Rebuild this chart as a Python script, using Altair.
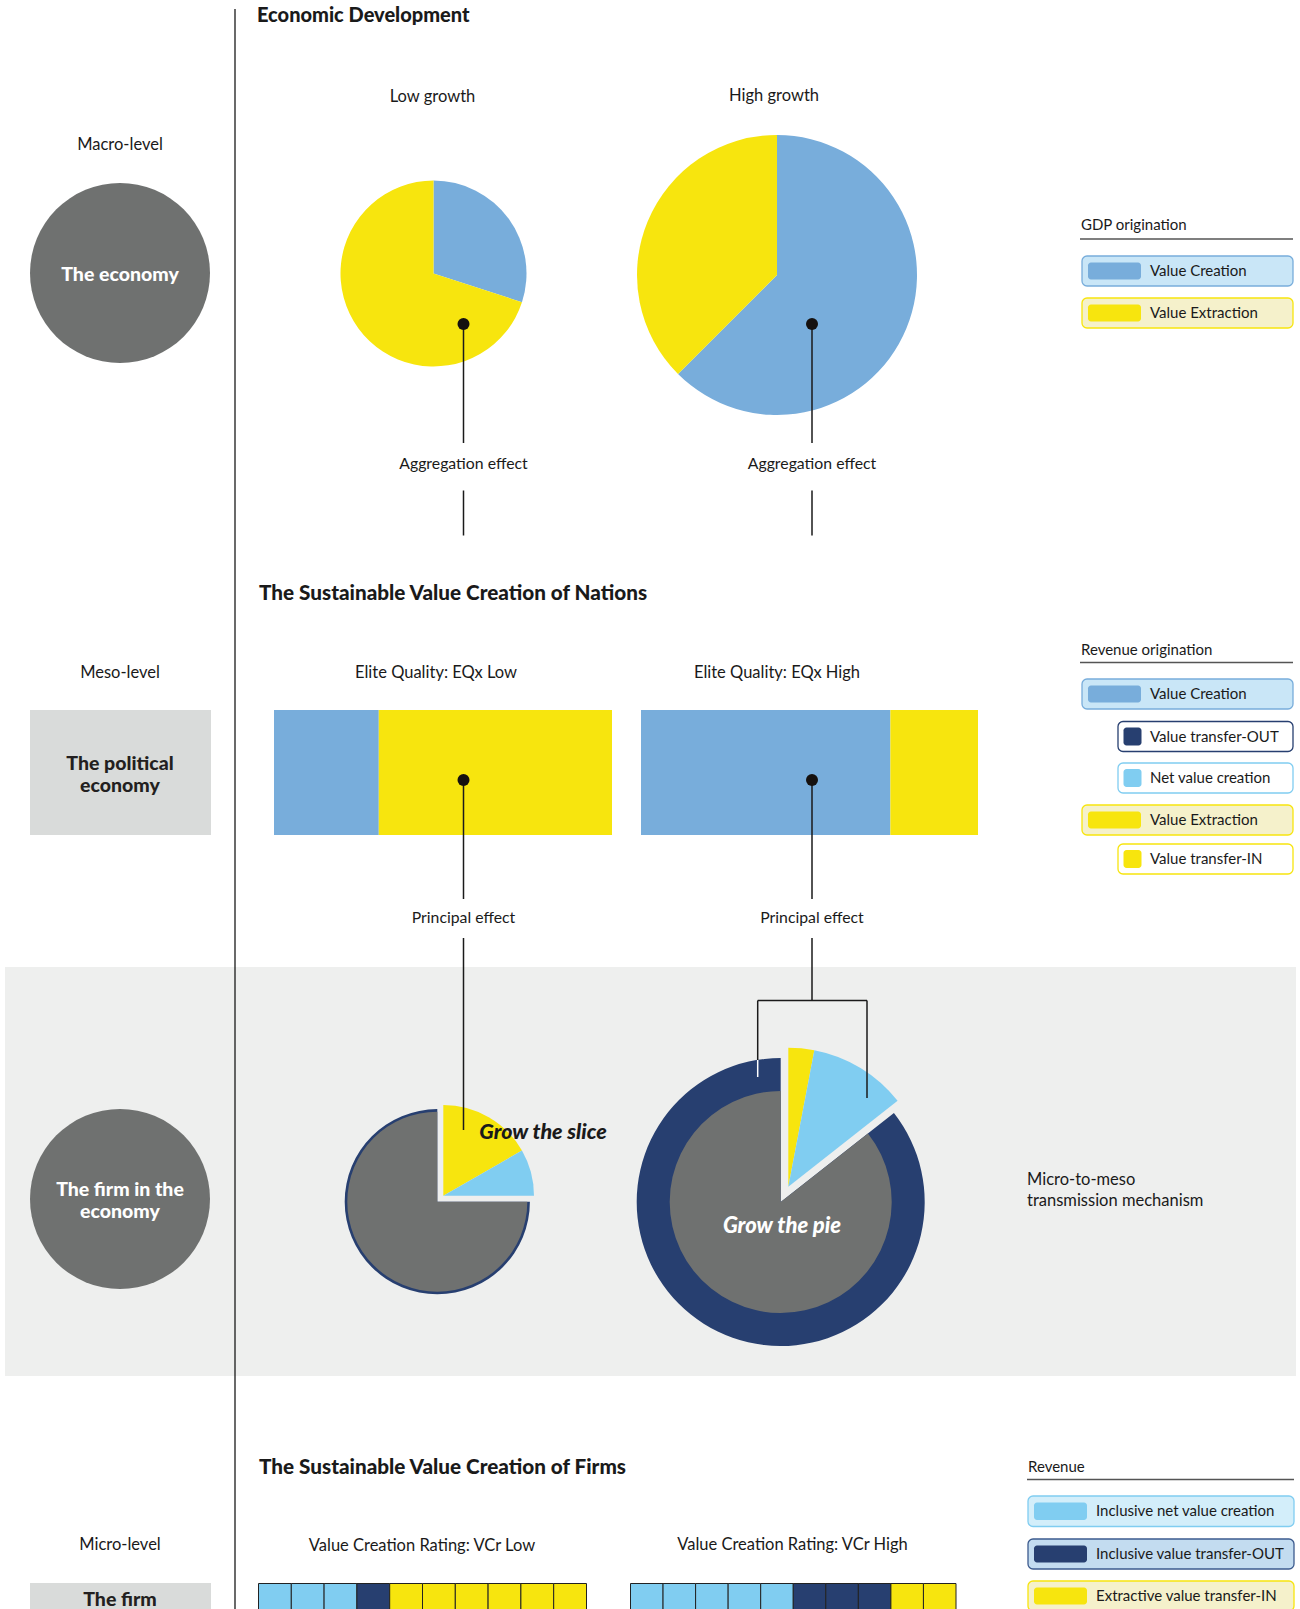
import math
import altair as alt
import pandas as pd

# ---------------- data ----------------
gdp_parts = ["Value Creation", "Value Extraction"]
gdp_low_growth = [0.30, 0.70]
gdp_high_growth = [0.625, 0.375]

rev_parts = ["Value Creation", "Value Extraction"]
eqx_low = [0.31, 0.69]
eqx_high = [0.74, 0.26]

firm_parts = ["Value transfer-IN", "Net value creation", "Firm revenue"]
firm_low = [0.167, 0.083, 0.75]
firm_high = [0.03, 0.114, 0.856]

NVC, OUT, XIN = ("Inclusive net value creation", "Inclusive value transfer-OUT",
                 "Extractive value transfer-IN")
vcr_low_cells = [NVC] * 3 + [OUT] * 1 + [XIN] * 6
vcr_high_cells = [NVC] * 5 + [OUT] * 3 + [XIN] * 2

legend_gdp = ["Value Creation", "Value Extraction"]
legend_rev = ["Value Creation", "Value transfer-OUT", "Net value creation",
              "Value Extraction", "Value transfer-IN"]
legend_firm = [NVC, OUT, XIN]

# ---------------- styles ----------------
BLUE, YELLOW, NAVY, LBLUE = "#78addb", "#f7e50e", "#273f70", "#80cdf1"
GREY, BAND, RECTG, INK = "#6f7170", "#eeefee", "#d9dbda", "#1a1a1a"
FONT = "Lato"

CATS = ["Value Creation", "Value Extraction", "Value transfer-OUT", "Net value creation",
        "Value transfer-IN", "Firm revenue", NVC, OUT, XIN]
CRANGE = [BLUE, YELLOW, NAVY, LBLUE, YELLOW, GREY, LBLUE, NAVY, YELLOW]
CSCALE = alt.Scale(domain=CATS, range=CRANGE)
THETA = alt.Scale(domain=[0, 1], range=[0, 2 * math.pi])


def X(f):
    return alt.X(f, type="quantitative", scale=None)


def Y(f):
    return alt.Y(f, type="quantitative", scale=None)


def rects(rows, **mk):
    df = pd.DataFrame(rows, columns=["x0", "x1", "y0", "y1"])
    return alt.Chart(df).mark_rect(**mk).encode(
        x=X("x0"), x2=alt.X2("x1"), y=Y("y0"), y2=alt.Y2("y1"))


def rules(rows, **mk):
    df = pd.DataFrame(rows, columns=["x0", "x1", "y0", "y1"])
    return alt.Chart(df).mark_rule(**mk).encode(
        x=X("x0"), x2=alt.X2("x1"), y=Y("y0"), y2=alt.Y2("y1"))


def texts(rows, **mk):
    df = pd.DataFrame(rows, columns=["t", "x", "y"])
    base = dict(font=FONT, color=INK, baseline="middle")
    base.update(mk)
    return alt.Chart(df).mark_text(**base).encode(x=X("x"), y=Y("y"), text=alt.Text("t:N"))


def pie(parts, vals, cx, cy, r, show, color=None):
    df = pd.DataFrame({"part": parts, "v": vals, "k": list(range(len(parts)))})
    df["cx"] = cx
    df["cy"] = cy
    enc = dict(
        theta=alt.Theta("v:Q", stack=True, scale=THETA),
        order=alt.Order("k:Q"),
        x=X("cx"), y=Y("cy"),
        opacity=alt.when(alt.FieldOneOfPredicate(field="part", oneOf=show))
        .then(alt.value(1)).otherwise(alt.value(0)),
    )
    if color is None:
        enc["color"] = alt.Color("part:N", scale=CSCALE, legend=None)
    else:
        enc["color"] = alt.value(color)
    return alt.Chart(df).mark_arc(radius=r).encode(**enc)


def stacked_bar(parts, vals, x0, x1, y0, y1):
    df = pd.DataFrame({"part": parts, "v": vals, "k": list(range(len(parts)))})
    df["y0"] = y0
    df["y1"] = y1
    return (alt.Chart(df)
            .transform_stack(stack="v", as_=["s0", "s1"], groupby=[], sort=[alt.SortField("k")])
            .mark_rect()
            .encode(x=alt.X("s0:Q", scale=alt.Scale(domain=[0, 1], range=[x0, x1], nice=False),
                            axis=None),
                    x2=alt.X2("s1"), y=Y("y0"), y2=alt.Y2("y1"),
                    color=alt.Color("part:N", scale=CSCALE, legend=None)))


def cells(cats, x0, x1, y0, y1):
    n = len(cats)
    df = pd.DataFrame({"part": cats, "i": list(range(n))})
    df["y0"] = y0
    df["y1"] = y1
    return (alt.Chart(df)
            .transform_calculate(i1="datum.i + 1")
            .mark_rect(stroke="#222222", strokeWidth=1)
            .encode(x=alt.X("i:Q", scale=alt.Scale(domain=[0, n], range=[x0, x1], nice=False),
                            axis=None),
                    x2=alt.X2("i1"), y=Y("y0"), y2=alt.Y2("y1"),
                    color=alt.Color("part:N", scale=CSCALE, legend=None)))


def legend(labels, boxes, swatch_kind, fs=15):
    rows = []
    for lab, (bx0, bx1, by0, by1, fill, stroke), kind in zip(labels, boxes, swatch_kind):
        if kind == "wide":
            sx0, sx1, sy0, sy1, tx = bx0 + 6, bx0 + 59, by0 + 6.5, by1 - 6.5, bx0 + 68
        else:
            sx0, sx1, sy0, sy1, tx = bx0 + 5.5, bx0 + 23.5, by0 + 6, by1 - 6, bx0 + 32
        rows.append(dict(part=lab, bx0=bx0, bx1=bx1, by0=by0, by1=by1, fill=fill, stroke=stroke,
                         sx0=sx0, sx1=sx1, sy0=sy0, sy1=sy1, tx=tx, ty=(by0 + by1) / 2))
    df = pd.DataFrame(rows)
    box = alt.Chart(df).mark_rect(cornerRadius=5, strokeWidth=1.3).encode(
        x=X("bx0"), x2=alt.X2("bx1"), y=Y("by0"), y2=alt.Y2("by1"),
        fill=alt.Fill("fill:N", scale=None), stroke=alt.Stroke("stroke:N", scale=None))
    sw = alt.Chart(df).mark_rect(cornerRadius=3).encode(
        x=X("sx0"), x2=alt.X2("sx1"), y=Y("sy0"), y2=alt.Y2("sy1"),
        color=alt.Color("part:N", scale=CSCALE, legend=None))
    tx = alt.Chart(df).mark_text(font=FONT, fontSize=fs, color=INK, align="left",
                                 baseline="middle").encode(x=X("tx"), y=Y("ty"), text="part:N")
    return [box, sw, tx]


layers = []

# backgrounds
layers.append(rects([(5, 1296, 967, 1376)], color=BAND))
layers.append(rects([(30, 211, 710, 835), (30, 211, 1583, 1609)], color=RECTG))
layers.append(rules([(235, 235, 9, 1609)], color=INK, strokeWidth=1.3))

# level circles (Vega circle size = (diameter)^2)
circ = pd.DataFrame({"x": [120, 120], "y": [273, 1199]})
layers.append(alt.Chart(circ).mark_circle(size=180 ** 2, color=GREY, opacity=1)
              .encode(x=X("x"), y=Y("y")))

# macro pies
layers.append(pie(gdp_parts, gdp_low_growth, 433.5, 273.5, 93, gdp_parts))
layers.append(pie(gdp_parts, gdp_high_growth, 777, 275, 140, gdp_parts))

# meso bars
layers.append(stacked_bar(rev_parts, eqx_low, 274, 612, 710, 835))
layers.append(stacked_bar(rev_parts, eqx_high, 641, 978, 710, 835))

# firm-in-economy pies
slice_parts = ["Value transfer-IN", "Net value creation"]
rest = ["Firm revenue"]
layers.append(pie(firm_parts, firm_low, 437.3, 1201.7, 92.6, rest, color=NAVY))
layers.append(pie(firm_parts, firm_low, 437.3, 1201.7, 90, rest))
layers.append(pie(firm_parts, firm_low, 443.3, 1195.7, 90.7, slice_parts))
layers.append(pie(firm_parts, firm_high, 780.7, 1202, 144, rest, color=NAVY))
layers.append(pie(firm_parts, firm_high, 780.7, 1202, 111, rest))
layers.append(pie(firm_parts, firm_high, 788.3, 1186.7, 139, slice_parts))

# micro cells
layers.append(cells(vcr_low_cells, 258.5, 586.5, 1583.5, 1612))
layers.append(cells(vcr_high_cells, 630.5, 956, 1583.5, 1612))

# connector lines and dots
layers.append(rules([
    (463.5, 463.5, 324, 443), (812, 812, 324, 443),
    (463.5, 463.5, 490.5, 535.5), (812, 812, 490.5, 535.5),
    (463.5, 463.5, 780, 899), (812, 812, 780, 899),
    (463.5, 463.5, 938, 1130), (812, 812, 938, 1000.5),
    (757.7, 867, 1000.5, 1000.5), (757.7, 757.7, 1000.5, 1060), (867, 867, 1000.5, 1098),
], color=INK, strokeWidth=1.5))
layers.append(rules([(757.7, 757.7, 1060, 1077)], color="white", strokeWidth=1.5))
dots = pd.DataFrame({"x": [463.5, 812, 463.5, 812], "y": [324, 324, 780, 780]})
layers.append(alt.Chart(dots).mark_circle(size=144, color="#15110f", opacity=1)
              .encode(x=X("x"), y=Y("y")))

# texts
layers.append(texts([
    ("Macro-level", 120, 145), ("Low growth", 432.5, 96.5), ("High growth", 774, 96),
    ("Meso-level", 120, 673), ("Elite Quality: EQx Low", 436, 673),
    ("Elite Quality: EQx High", 777, 673),
    ("Micro-level", 120, 1545), ("Value Creation Rating: VCr Low", 422, 1546),
    ("Value Creation Rating: VCr High", 792.5, 1545),
], fontSize=16.5, align="center"))
layers.append(texts([
    ("Aggregation effect", 463.5, 464), ("Aggregation effect", 812, 464),
    ("Principal effect", 463.5, 918), ("Principal effect", 812, 918),
], fontSize=15.8, align="center"))
layers.append(texts([("Micro-to-meso", 1027, 1180), ("transmission mechanism", 1027, 1200.5)],
                    fontSize=16.5, align="left"))
layers.append(texts([("Economic Development", 257, 16)],
                    fontSize=20, fontWeight=900, align="left"))
layers.append(texts([
    ("The Sustainable Value Creation of Nations", 259, 594),
    ("The Sustainable Value Creation of Firms", 259, 1468),
], fontSize=20.7, fontWeight=900, align="left"))
layers.append(texts([("The economy", 120, 275), ("The firm in the", 120, 1190),
                     ("economy", 120, 1212)],
                    fontSize=19.5, fontWeight=900, align="center", color="white"))
layers.append(texts([("The political", 120, 764), ("economy", 120, 786), ("The firm", 120, 1600)],
                    fontSize=19.5, fontWeight=900, align="center", color="#231f20"))
layers.append(texts([("Grow the slice", 543, 1133)], fontSize=21.5, fontWeight=900,
                    fontStyle="italic", align="center"))
layers.append(texts([("Grow the pie", 782, 1226)], fontSize=22, fontWeight=900,
                    fontStyle="italic", align="center", color="white"))

# legends
layers.append(texts([("GDP origination", 1081, 225), ("Revenue origination", 1081, 650),
                     ("Revenue", 1028, 1467)], fontSize=15, align="left"))
layers.append(rules([(1080, 1293, 239, 239), (1080, 1293, 662.5, 662.5),
                     (1027, 1294, 1479.5, 1479.5)], color="#555555", strokeWidth=1.5))
CREAM_B, CREAM_Y = "#c9e6f7", "#f5f1cb"
layers += legend(legend_gdp,
                 [(1082, 1293, 256, 286, CREAM_B, BLUE), (1082, 1293, 298, 328, CREAM_Y, YELLOW)],
                 ["wide", "wide"])
layers += legend(legend_rev,
                 [(1082, 1293, 679, 709, CREAM_B, BLUE),
                  (1118, 1293, 721.5, 751.5, "white", NAVY),
                  (1118, 1293, 763, 793, "white", LBLUE),
                  (1082, 1293, 805, 835, CREAM_Y, YELLOW),
                  (1118, 1293, 844, 874, "white", YELLOW)],
                 ["wide", "sq", "sq", "wide", "sq"])
layers += legend(legend_firm,
                 [(1028, 1294, 1496, 1526.5, "#d3eefa", LBLUE),
                  (1028, 1294, 1539, 1569, "#c3dcf0", "#3d5b8e"),
                  (1028, 1294, 1581, 1611, CREAM_Y, YELLOW)],
                 ["wide", "wide", "wide"])

chart = (alt.layer(*layers)
         .properties(width=1300, height=1609, padding=0, background="white",
                     autosize=alt.AutoSizeParams(type="none"))
         .resolve_scale(x="independent")
         .configure_view(stroke=None))

chart.save("out.html", embed_options={"renderer": "svg", "actions": False})
